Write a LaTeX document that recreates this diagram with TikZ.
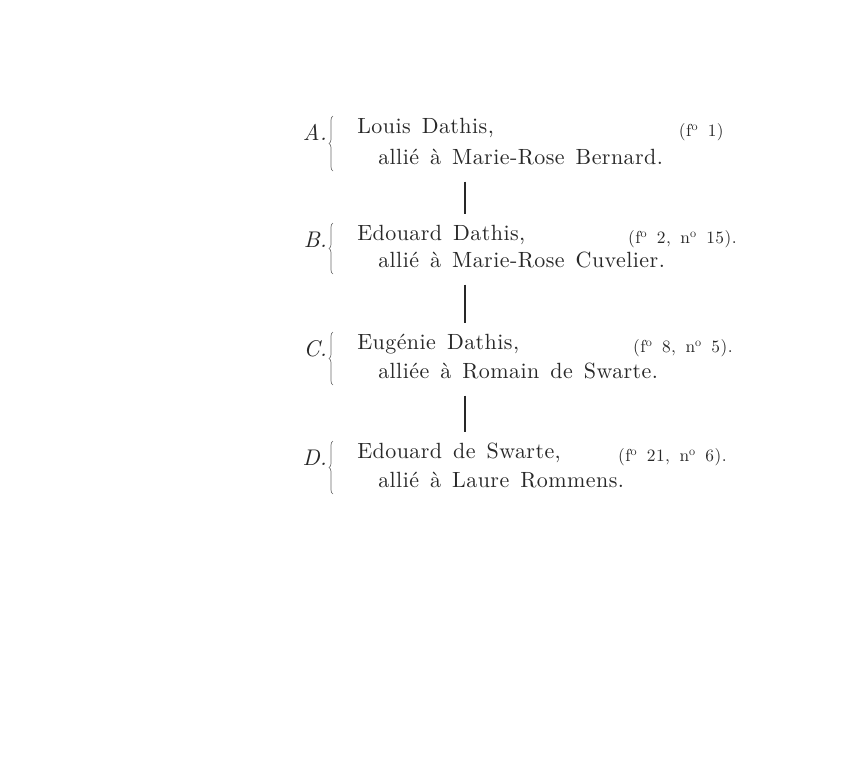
\documentclass[tikz,border=0pt]{standalone}
\usepackage{fontspec}
\setmainfont{lmroman10-regular.otf}[ItalicFont=lmroman10-italic.otf, BoldFont=lmroman10-bold.otf]
\usepackage{tikz}
\usetikzlibrary{decorations.pathreplacing}

\definecolor{inkgray}{RGB}{40,40,40}
\newcommand\entryfont{\fontsize{16.5}{20}\selectfont\addfontfeatures{LetterSpace=2}\spaceskip=0.5em\relax}
\newcommand\foliofont{\fontsize{13}{16}\selectfont\addfontfeatures{LetterSpace=3}\spaceskip=0.55em\relax}

\begin{document}
\begin{tikzpicture}[x=0.75pt, y=-0.75pt,
  txt/.style={inner sep=0pt, text=inkgray, text height=0.7em, text depth=0.2em},
  letter/.style={txt, anchor=base east, font=\fontsize{17}{20}\selectfont\itshape},
  entry/.style={txt, anchor=base west, font=\entryfont},
  folio/.style={txt, anchor=base east, font=\foliofont},
  link/.style={draw=inkgray, line width=1.1pt, shorten <=11pt, shorten >=12pt},
  bracket/.style={draw=inkgray!70, line width=0.5pt, decorate, decoration={brace, amplitude=3pt}}]
  \useasboundingbox (0,0) rectangle (857,768);

  % one block per generation
  \foreach \k/\yn/\ys/\xr/\who/\spouse/\fol in {
    A/133/164/724/{Louis Dathis,}/{allié à Marie-Rose Bernard.}/{(f\textsuperscript{o}~1)},
    B/240/267/737/{Edouard Dathis,}/{allié à Marie-Rose Cuvelier.}/{(f\textsuperscript{o}~2, n\textsuperscript{o}~15).},
    C/349/378/733/{Eugénie Dathis,}/{alliée à Romain de Swarte.}/{(f\textsuperscript{o}~8, n\textsuperscript{o}~5).},
    D/458/487/727/{Edouard de Swarte,}/{allié à Laure Rommens.}/{(f\textsuperscript{o}~21, n\textsuperscript{o}~6).}}
  {
    \node[letter] (let\k) at (327,\yn+7) {\k.};
    \node[entry] (name\k) at (357,\yn) {\who};
    \node[entry] (spouse\k) at (378,\ys) {\spouse};
    \node[folio] (folio\k) at (\xr,\yn+3) {\fol};
    \draw[bracket] (333,\ys+7) -- (333,\yn-17);
  }

  % descent lines
  \coordinate (axis) at (465,0);
  \foreach \p/\n in {A/B, B/C, C/D}
    \draw[link] (spouse\p.south -| axis) -- (name\n.north -| axis);
\end{tikzpicture}
\end{document}
